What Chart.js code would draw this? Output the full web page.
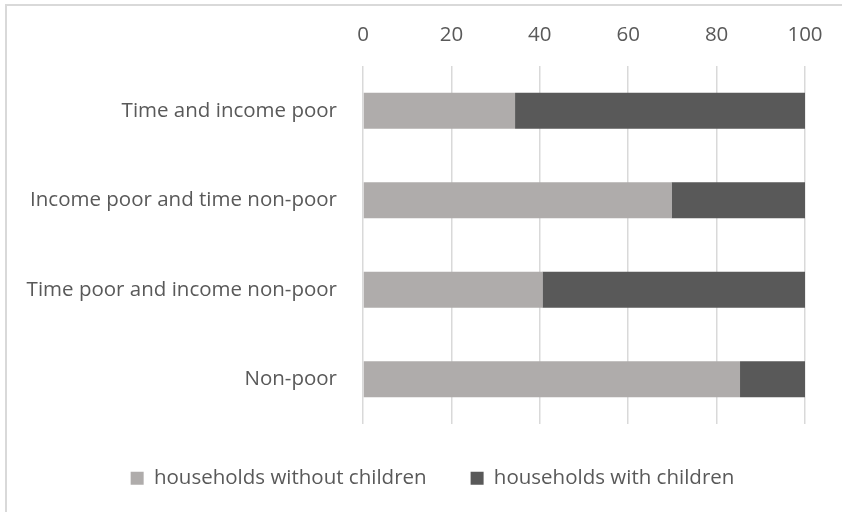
<!DOCTYPE html>
<html>
<head>
<meta charset="utf-8">
<script src="https://cdn.jsdelivr.net/npm/chart.js@4/dist/chart.umd.min.js"></script>
<style>
  html, body { margin: 0; padding: 0; background: #ffffff; overflow: hidden; }
  #frame { position: absolute; left: 5px; top: 4px; width: 900px; height: 600px;
           border-left: 2px solid #d9d9d9; border-top: 2px solid #d9d9d9; }
  #wrap { position: absolute; left: 0; top: 0; width: 842px; height: 512px; overflow: hidden; }
  #c { position: absolute; left: 0; top: 0; }
</style>
</head>
<body>
<div id="frame"></div>
<div id="wrap"><canvas id="c" width="865" height="512"></canvas></div>
<script>
const categories = [
  "Time and income poor",
  "Income poor and time non-poor",
  "Time poor and income non-poor",
  "Non-poor"
];
const withoutChildren = [34.4, 69.8, 40.6, 85.3];
const withChildren = [65.6, 30.2, 59.4, 14.7];
const seriesNames = ["households without children", "households with children"];
const xTicks = [0, 20, 40, 60, 80, 100];

const FONT = "'Open Sans', 'Noto Sans', sans-serif";
const FS = 20.5;
const TXT = "#595959";

new Chart(document.getElementById('c'), {
  type: 'bar',
  data: {
    labels: categories,
    datasets: [
      { label: seriesNames[0], data: withoutChildren, backgroundColor: '#afacab',
        barPercentage: 0.405, categoryPercentage: 1 },
      { label: seriesNames[1], data: withChildren, backgroundColor: '#595959',
        barPercentage: 0.405, categoryPercentage: 1 }
    ]
  },
  options: {
    indexAxis: 'y',
    responsive: false,
    animation: false,
    devicePixelRatio: 1,
    layout: { padding: { left: 0, right: 0, top: 0, bottom: 13.5 } },
    scales: {
      x: {
        position: 'top',
        stacked: true,
        min: 0, max: 100,
        afterBuildTicks: s => { s.ticks = xTicks.map(v => ({ value: v })); },
        afterFit: s => { s.height = 66; },
        grid: { color: '#d9d9d9', lineWidth: 1.5, drawTicks: false },
        border: { display: false },
        ticks: { color: TXT, font: { family: FONT, size: FS }, padding: 19 }
      },
      y: {
        stacked: true,
        afterFit: s => { s.width = 363; },
        grid: { display: false, drawTicks: false },
        border: { display: false },
        ticks: { color: TXT, font: { family: FONT, size: FS }, padding: 26 }
      },
      yRight: {
        type: 'category',
        position: 'right',
        afterFit: s => { s.width = 60; },
        grid: { display: false, drawTicks: false },
        border: { display: false },
        ticks: { display: false }
      }
    },
    plugins: {
      tooltip: { enabled: false },
      legend: {
        position: 'bottom',
        align: 'center',
        labels: {
          boxWidth: 13, boxHeight: 13, padding: 44,
          color: TXT, font: { family: FONT, size: FS }
        }
      }
    }
  }
});
</script>
</body>
</html>
